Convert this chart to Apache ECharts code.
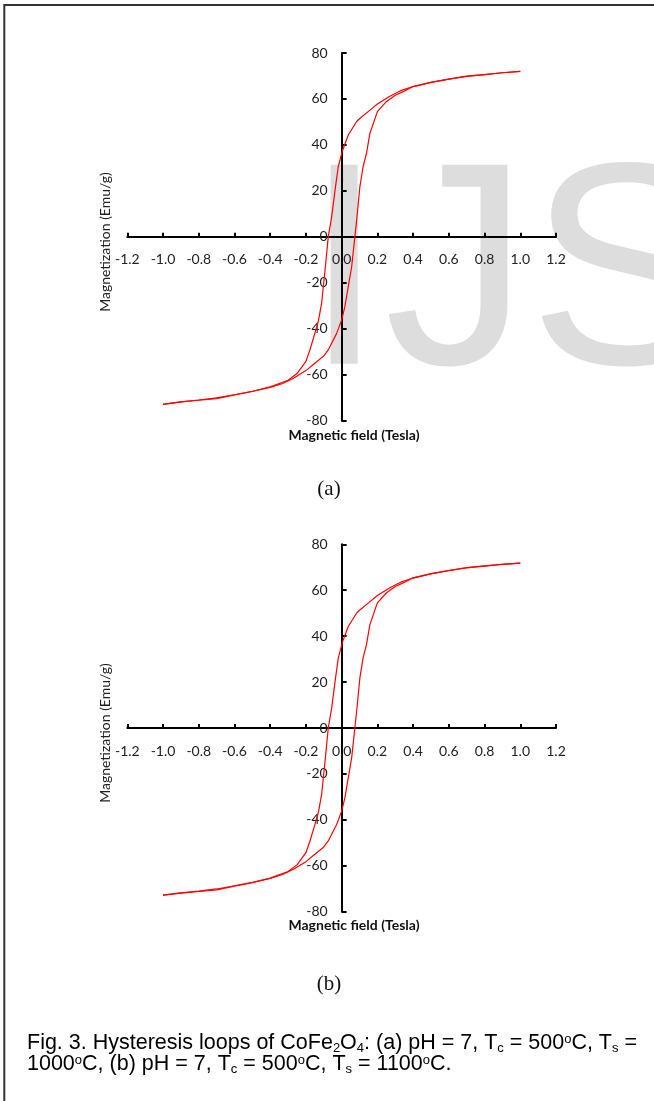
<!DOCTYPE html>
<html>
<head>
<meta charset="utf-8">
<script src="https://cdn.jsdelivr.net/npm/echarts@6/dist/echarts.min.js"></script>
<style>
  html, body { margin: 0; padding: 0; background: #fff; }
  #chart { width: 654px; height: 1101px; }
</style>
</head>
<body>
<div id="chart"></div>
<script>
// Axis ranges (Tesla, emu/g)
const fieldMin = -1.2, fieldMax = 1.2, fieldStep = 0.2;
const magMin = -80, magMax = 80, magStep = 20;

// Loop (a): Tc = 500 °C, Ts = 1000 °C
// descending branch, +1 T -> -1 T
const fieldDownA = [1.0, 0.9, 0.8, 0.7, 0.6, 0.5, 0.4, 0.33, 0.27, 0.2, 0.15, 0.1, 0.084, 0.037, 0.005, -0.019, -0.037, -0.056, -0.075, -0.093, -0.112, -0.13, -0.15, -0.177, -0.2, -0.25, -0.3, -0.4, -0.5, -0.6, -0.7, -0.8, -0.9, -1.0];
const magDownA   = [72.0, 71.4, 70.6, 69.8, 68.6, 67.2, 65.4, 63.6, 61.2, 57.8, 54.6, 51.4, 50.2, 44.3, 37.6, 30.5, 20.3, 8.7, 0, -14.4, -28.8, -36.5, -42.0, -49.0, -54.2, -59.5, -62.4, -65.3, -67.3, -68.8, -70.4, -71.1, -71.8, -72.9];
// ascending branch, -1 T -> +1 T
const fieldUpA = [-1.0, -0.9, -0.8, -0.7, -0.6, -0.5, -0.4, -0.33, -0.27, -0.2, -0.15, -0.1, -0.075, -0.028, 0.0, 0.018, 0.037, 0.056, 0.074, 0.084, 0.102, 0.12, 0.139, 0.158, 0.2, 0.25, 0.3, 0.35, 0.4, 0.5, 0.6, 0.7, 0.8, 0.9, 1.0];
const magUpA   = [-72.9, -71.8, -71.0, -70.1, -68.7, -67.2, -65.5, -63.8, -61.5, -58.2, -55.0, -51.8, -49.2, -42.0, -36.2, -30.4, -21.7, -13.0, 0, 7.3, 21.8, 30.5, 36.3, 45.0, 54.5, 58.8, 61.6, 63.4, 65.4, 67.2, 68.6, 69.9, 70.6, 71.4, 72.0];

// Loop (b): Tc = 500 °C, Ts = 1100 °C
const fieldDownB = [1.0, 0.9, 0.8, 0.7, 0.6, 0.5, 0.4, 0.33, 0.27, 0.2, 0.15, 0.1, 0.084, 0.037, 0.005, -0.019, -0.037, -0.056, -0.075, -0.093, -0.112, -0.13, -0.15, -0.177, -0.2, -0.25, -0.3, -0.4, -0.5, -0.6, -0.7, -0.8, -0.9, -1.0];
const magDownB   = [71.8, 71.3, 70.5, 69.7, 68.5, 67.1, 65.3, 63.5, 61.1, 57.7, 54.5, 51.3, 50.1, 44.2, 37.5, 30.4, 20.2, 8.6, 0, -14.5, -28.9, -36.6, -42.1, -49.1, -54.3, -59.6, -62.5, -65.4, -67.4, -68.9, -70.5, -71.2, -71.9, -72.8];
const fieldUpB = [-1.0, -0.9, -0.8, -0.7, -0.6, -0.5, -0.4, -0.33, -0.27, -0.2, -0.15, -0.1, -0.075, -0.028, 0.0, 0.018, 0.037, 0.056, 0.074, 0.084, 0.102, 0.12, 0.139, 0.158, 0.2, 0.25, 0.3, 0.35, 0.4, 0.5, 0.6, 0.7, 0.8, 0.9, 1.0];
const magUpB   = [-72.8, -71.8, -71.0, -70.1, -68.7, -67.2, -65.5, -63.8, -61.5, -58.2, -55.0, -51.8, -49.2, -42.0, -36.2, -30.4, -21.7, -13.0, 0, 7.3, 21.8, 30.5, 36.3, 45.0, 54.5, 58.8, 61.6, 63.4, 65.4, 67.2, 68.6, 69.9, 70.6, 71.3, 71.8];

const zip = (xs, ys) => xs.map((x, i) => [x, ys[i]]);

const W = 654, H = 1101;
// plot areas of the two panels
const grids = [
  { left: 127.3, right: 98, top: 53, bottom: 680.3 },
  { left: 127.3, right: 98, top: 544.3, bottom: 189.3 }
];

const tickFont = 'Lato';
const axisColor = '#000';

// axes cross at the origin: shift each axis from the grid edge to the zero line
function xAxisFor(i) {
  const g = grids[i];
  const h = H - g.top - g.bottom;
  return {
    gridIndex: i, type: 'value', position: 'bottom',
    offset: -((0 - magMin) / (magMax - magMin)) * h,
    min: fieldMin, max: fieldMax, interval: fieldStep,
    axisLine: { onZero: false, lineStyle: { color: axisColor, width: 2 } },
    axisTick: { show: true, inside: true, length: 4, lineStyle: { color: axisColor, width: 2 } },
    axisLabel: { margin: 16, fontFamily: tickFont, fontSize: 14, color: '#222',
                 formatter: v => v.toFixed(1) },
    splitLine: { show: false }
  };
}
function yAxisFor(i) {
  const g = grids[i];
  const w = W - g.left - g.right;
  return {
    gridIndex: i, type: 'value', position: 'left',
    offset: -((0 - fieldMin) / (fieldMax - fieldMin)) * w,
    min: magMin, max: magMax, interval: magStep,
    axisLine: { onZero: false, lineStyle: { color: axisColor, width: 2 } },
    axisTick: { show: true, inside: true, length: 5, lineStyle: { color: axisColor, width: 2 } },
    axisLabel: { margin: 14, fontFamily: tickFont, fontSize: 14, color: '#222' },
    splitLine: { show: false }
  };
}
function loopSeries(idx, data) {
  return {
    type: 'line', xAxisIndex: idx, yAxisIndex: idx,
    data, showSymbol: false, symbol: 'none',
    lineStyle: { color: '#ff0000', width: 1.2 },
    z: 5
  };
}

const axisTitleY = (x, y) => ({
  type: 'text', x, y, rotation: Math.PI / 2,
  style: { text: 'Magnetization (Emu/g)', font: '14px Lato', fill: '#222',
           align: 'center', verticalAlign: 'middle' }
});
const axisTitleX = (x, y) => ({
  type: 'text', x, y,
  style: { text: 'Magnetic field (Tesla)', font: 'bold 14px Lato', fill: '#111',
           align: 'center', verticalAlign: 'middle' }
});
const panelLabel = (t, x, y) => ({
  type: 'text', x, y,
  style: { text: t, font: '21px "Liberation Serif"', fill: '#111',
           align: 'center', verticalAlign: 'middle' }
});
const captionRich = {
  s: { fontSize: 13, fontFamily: 'Liberation Sans', lineHeight: 9, verticalAlign: 'bottom' },
  o: { fontSize: 13, fontFamily: 'Liberation Sans', lineHeight: 9, verticalAlign: 'top' }
};
const captionLine = (t, x, y) => ({
  type: 'text', x, y,
  style: { text: t, font: '21.5px "Liberation Sans"', fill: '#000', lineHeight: 22,
           align: 'left', verticalAlign: 'middle', rich: captionRich }
});

const chart = echarts.init(document.getElementById('chart'), null, { renderer: 'canvas' });
chart.setOption({
  animation: false,
  backgroundColor: '#fff',
  grid: grids,
  xAxis: [xAxisFor(0), xAxisFor(1)],
  yAxis: [yAxisFor(0), yAxisFor(1)],
  series: [
    loopSeries(0, zip(fieldDownA, magDownA)),
    loopSeries(0, zip(fieldUpA, magUpA)),
    loopSeries(1, zip(fieldDownB, magDownB)),
    loopSeries(1, zip(fieldUpB, magUpB))
  ],
  graphic: [
    // journal watermark behind panel (a)
    { type: 'text', x: 304, y: 284, z: -10, silent: true,
      style: { text: 'IJSER', font: '289px "Liberation Sans"', fill: '#dddddd',
               align: 'left', verticalAlign: 'middle' } },
    // frame
    { type: 'polyline', z: 10,
      shape: { points: [[4.3, 1101], [4.3, 5], [654, 5]] },
      style: { stroke: '#333', lineWidth: 2, fill: null } },
    axisTitleY(105, 242),
    axisTitleX(354, 435),
    panelLabel('(a)', 329, 489),
    axisTitleY(105, 733),
    axisTitleX(354, 925),
    panelLabel('(b)', 329, 984),
    captionLine('Fig. 3. Hysteresis loops of CoFe{s|2}O{s|4}: (a) pH = 7, T{s|c} = 500{o|o}C, T{s|s} =', 27, 1043.5),
    captionLine('1000{o|o}C, (b) pH = 7, T{s|c} = 500{o|o}C, T{s|s} = 1100{o|o}C.', 27, 1064.5)
  ]
});
</script>
</body>
</html>
